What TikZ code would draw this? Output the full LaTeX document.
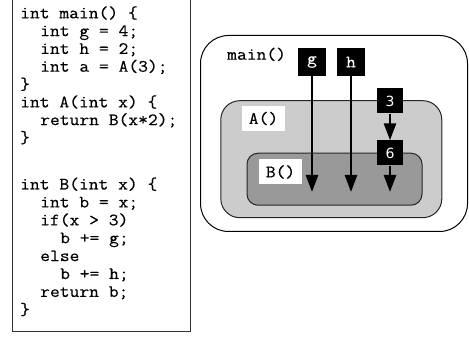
\documentclass[tikz,border=0pt]{standalone}
\usepackage{fontspec}
\setmonofont{Latin Modern Mono}[FakeStretch=1.1, FakeBold=0.35]
\newfontfamily\digitfont{DejaVu Sans}
\usetikzlibrary{arrows.meta}
\tikzset{
  code/.style={anchor=base west, inner sep=0pt, font=\ttfamily\fontsize{17.3}{18}\selectfont},
  frame/.style={draw=black!85, line width=1pt},
  tag/.style={fill=white, inner sep=0pt, minimum width=43pt, minimum height=25pt, font=\ttfamily\fontsize{17.3}{18}\selectfont},
  var/.style={fill=black, text=white, inner sep=0pt, minimum width=28pt, minimum height=28pt, font=\ttfamily\fontsize{17.3}{18}\selectfont},
  num/.style={fill=black, text=white, inner sep=0pt, minimum width=26pt, minimum height=25pt, font=\digitfont\fontsize{14}{16}\selectfont},
  flow/.style={line width=2.7pt, -{Triangle[length=17pt,width=12pt]}}
}
\begin{document}
\begin{tikzpicture}[x=1pt,y=-1pt]
\useasboundingbox (0,0) rectangle (469,339);
% code frame
\draw[line width=0.9pt, draw=black!80] (12.7,0) -- (12.7,331.7) -- (190,331.7) -- (190,0);
% code lines, block 1
\node[code] (l1) at (20,18.3) {int main() \{};
\node[code] (l2) at (40,36.1) {int g = 4;};
\node[code] (l3) at (40,53.9) {int h = 2;};
\node[code] (l4) at (40,71.7) {int a = A(3);};
\node[code] (l5) at (20,89.5) {\}};
\node[code] (l6) at (20,107.3) {int A(int x) \{};
\node[code] (l7) at (40,125.1) {return B(x*2);};
\node[code] (l8) at (20,142.9) {\}};
% block 2
\node[code] (m1) at (20,189.5) {int B(int x) \{};
\node[code] (m2) at (40,207.4) {int b = x;};
\node[code] (m3) at (40,225.3) {if(x > 3)};
\node[code] (m4) at (60,243.2) {b += g;};
\node[code] (m5) at (40,261.1) {else};
\node[code] (m6) at (60,279.0) {b += h;};
\node[code] (m7) at (40,296.9) {return b;};
\node[code] (m8) at (20,314.8) {\}};
% scopes
\node[frame, draw=black, fill=white, rounded corners=28pt, minimum width=267pt, minimum height=196pt] (mainbox) at (334,133.5) {};
\node[frame, fill=black!20, rounded corners=19pt, minimum width=221pt, minimum height=117pt] (abox) at (331.3,159.2) {};
\node[frame, fill=black!40, rounded corners=11pt, minimum width=175pt, minimum height=52pt] (bbox) at (334.5,179.2) {};
\node[code] (mainlbl) at (227,59.7) {main()};
\node[tag] (albl) at (263.5,118.5) {A()};
\node[tag] (blbl) at (280.5,172) {B()};
% variables
\node[var] (g) at (312,62) {g};
\node[var] (h) at (351,62) {h};
\node[num] (n3) at (390,101) {3};
\node[num] (n6) at (390,153) {6};
\coordinate (gend) at (312,192);
\coordinate (hend) at (351,192);
\coordinate (n6end) at (390,192);
\draw[flow] (g.south) -- (gend);
\draw[flow] (h.south) -- (hend);
\draw[flow] (n3.south) -- (n6.north);
\draw[flow] (n6.south) -- (n6end);
\end{tikzpicture}
\end{document}
